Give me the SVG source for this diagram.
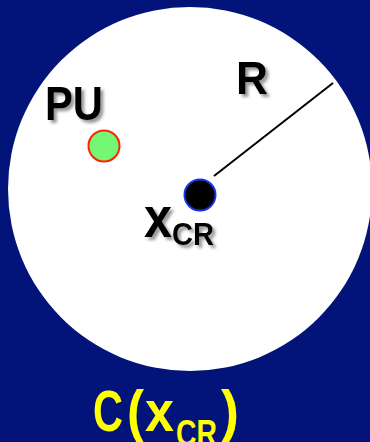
<svg xmlns="http://www.w3.org/2000/svg" width="370" height="442" viewBox="0 0 370 442">
<defs>
<filter id="sh" x="-20%" y="-20%" width="150%" height="150%">
<feDropShadow dx="3" dy="3" stdDeviation="1.8" flood-color="#555" flood-opacity="0.6"/>
</filter>
</defs>
<style>
.lbl{font-family:"Comic Sans MS","Liberation Sans","DejaVu Sans",sans-serif;font-weight:bold;fill:#000;filter:url(#sh)}
.yl{font-family:"Comic Sans MS","Liberation Sans","DejaVu Sans",sans-serif;font-weight:bold;fill:#FFFF00}
</style>
<rect width="370" height="442" fill="#021379"/>
<g id="region">
<circle cx="190" cy="189" r="182" fill="#fff"/>
</g>
<g id="connectors">
<line x1="214" y1="176" x2="333" y2="83" stroke="#000" stroke-width="2"/>
</g>
<g id="pu">
<circle cx="104" cy="146" r="15.5" fill="#74F774" stroke="#FF2200" stroke-width="2"/>
<text class="lbl" x="45" y="120" font-size="48" textLength="58" lengthAdjust="spacingAndGlyphs">PU</text>
</g>
<g id="xcr">
<circle cx="200" cy="195" r="15.5" fill="#000" stroke="#1535E8" stroke-width="2"/>
<text class="lbl" font-size="58"><tspan x="144" y="237" textLength="28" lengthAdjust="spacingAndGlyphs">x</tspan><tspan x="172" y="245" font-size="32" textLength="42" lengthAdjust="spacingAndGlyphs">CR</tspan></text>
</g>
<g id="r">
<text class="lbl" x="236" y="94" font-size="47" textLength="32" lengthAdjust="spacingAndGlyphs">R</text>
</g>
<g id="caption">
<text class="yl" font-size="58"><tspan x="93" y="431" textLength="30" lengthAdjust="spacingAndGlyphs">C</tspan><tspan x="127" y="431" textLength="17" lengthAdjust="spacingAndGlyphs">(</tspan><tspan x="145" y="431" textLength="29" lengthAdjust="spacingAndGlyphs">x</tspan><tspan x="176" y="446" font-size="36" textLength="41" lengthAdjust="spacingAndGlyphs">CR</tspan><tspan x="221" y="431" textLength="18" lengthAdjust="spacingAndGlyphs">)</tspan></text>
</g>
</svg>
